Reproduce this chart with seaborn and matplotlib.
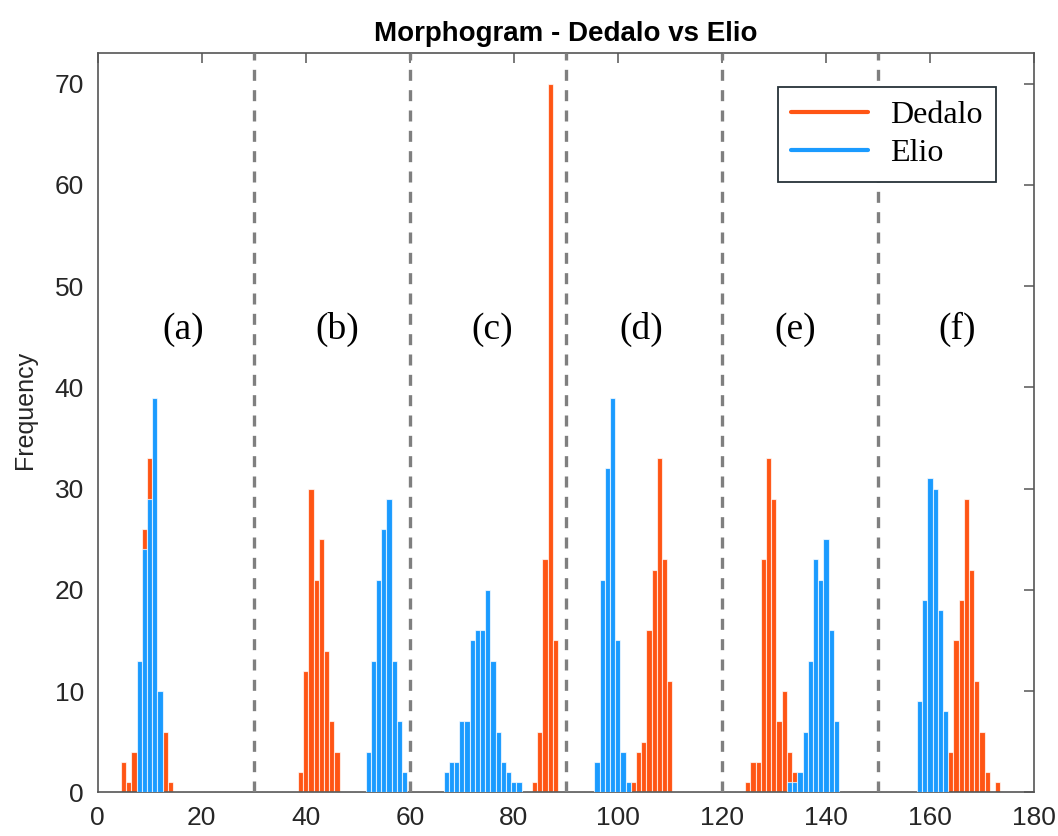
import matplotlib
matplotlib.use("Agg")
import matplotlib.pyplot as plt
from matplotlib.lines import Line2D
import seaborn as sns
import numpy as np

# ---- data ----
bins_dedalo = [5, 6, 7, 9, 10, 13, 14,
               39, 40, 41, 42, 43, 44, 45, 46,
               84, 85, 86, 87, 88,
               103, 104, 105, 106, 107, 108, 109, 110,
               125, 126, 127, 128, 129, 130, 131, 132, 133, 134,
               164, 165, 166, 167, 168, 169, 170, 171, 173]
counts_dedalo = [3, 1, 4, 26, 33, 6, 1,
                 2, 12, 30, 21, 25, 14, 7, 4,
                 1, 6, 23, 70, 15,
                 1, 4, 5, 16, 22, 33, 23, 11,
                 1, 3, 3, 23, 33, 29, 7, 10, 4, 2,
                 4, 15, 19, 29, 22, 11, 6, 2, 1]

bins_elio = [8, 9, 10, 11, 12,
             52, 53, 54, 55, 56, 57, 58, 59,
             67, 68, 69, 70, 71, 72, 73, 74, 75, 76, 77, 78, 79, 80, 81,
             96, 97, 98, 99, 100, 101, 102,
             133, 134, 135, 136, 137, 138, 139, 140, 141, 142,
             158, 159, 160, 161, 162, 163]
counts_elio = [13, 24, 29, 39, 10,
               4, 13, 21, 26, 29, 13, 7, 2,
               2, 3, 3, 7, 7, 15, 16, 16, 20, 13, 6, 3, 2, 1, 1,
               3, 21, 32, 39, 15, 4, 1,
               1, 1, 2, 6, 13, 23, 21, 25, 16, 7,
               9, 19, 31, 30, 18, 8]

series_names = ["Dedalo", "Elio"]
dividers = [30, 60, 90, 120, 150]
panel_labels = ["(a)", "(b)", "(c)", "(d)", "(e)", "(f)"]
x_ticks = [0, 20, 40, 60, 80, 100, 120, 140, 160, 180]
y_ticks = [0, 10, 20, 30, 40, 50, 60, 70]
title = "Morphogram - Dedalo vs Elio"
y_label = "Frequency"

# ---- styling ----
ORANGE = "#FF5514"
BLUE = "#1A9BFF"
label_x = [16.5, 46.1, 75.8, 104.5, 134.1, 165.3]
label_y = 45.7

sns.set_style("white")
plt.rcParams["font.family"] = ["Liberation Sans", "DejaVu Sans"]

fig = plt.figure(figsize=(10.58, 8.36), dpi=100)
ax = fig.add_axes([0.0923, 0.0523, 0.8850, 0.8839])

sns.histplot(x=bins_dedalo, weights=counts_dedalo, discrete=True, shrink=1,
             color=ORANGE, alpha=1, edgecolor=(1, 1, 1, 0.7), linewidth=0.8,
             ax=ax, zorder=2)
sns.histplot(x=bins_elio, weights=counts_elio, discrete=True, shrink=1,
             color=BLUE, alpha=1, edgecolor=(1, 1, 1, 0.7), linewidth=0.8,
             ax=ax, zorder=3)

for d in dividers:
    ax.axvline(d, color="#7f7f7f", lw=2.4, linestyle=(0, (3.3, 2.8)), zorder=4)

for lx, lab in zip(label_x, panel_labels):
    ax.text(lx, label_y, lab, ha="center", va="center", fontsize=27,
            family=["Liberation Serif", "DejaVu Serif"], color="black")

ax.set_xlim(0, 180)
ax.set_ylim(0, 73)
ax.set_xticks(x_ticks)
ax.set_yticks(y_ticks)
ax.tick_params(direction="in", top=True, right=True, length=7, width=1.1,
               color="#555555", labelcolor="#262626", labelsize=19, pad=10)
for s in ax.spines.values():
    s.set_visible(True)
    s.set_color("#555555")
    s.set_linewidth(1.2)
ax.set_xlabel("")
ax.set_ylabel(y_label, fontsize=18, color="#262626")
ax.yaxis.set_label_coords(-0.0645, 0.517)
ax.set_title(title, fontsize=20, fontweight="bold", pad=9, color="black")

handles = [Line2D([0], [0], color=ORANGE, lw=3),
           Line2D([0], [0], color=BLUE, lw=3)]
leg = ax.legend(handles, series_names, loc="upper right",
                bbox_to_anchor=(0.9594, 0.9544), borderaxespad=0,
                prop={"family": ["Liberation Serif", "DejaVu Serif"], "size": 23},
                fancybox=False, framealpha=1, edgecolor="#263238",
                handlelength=2.4, handletextpad=0.7, labelspacing=0.28,
                borderpad=0.42, labelcolor="black")
leg.get_frame().set_linewidth(1.3)
leg.set_zorder(10)

fig.savefig("out.png", dpi=100)
